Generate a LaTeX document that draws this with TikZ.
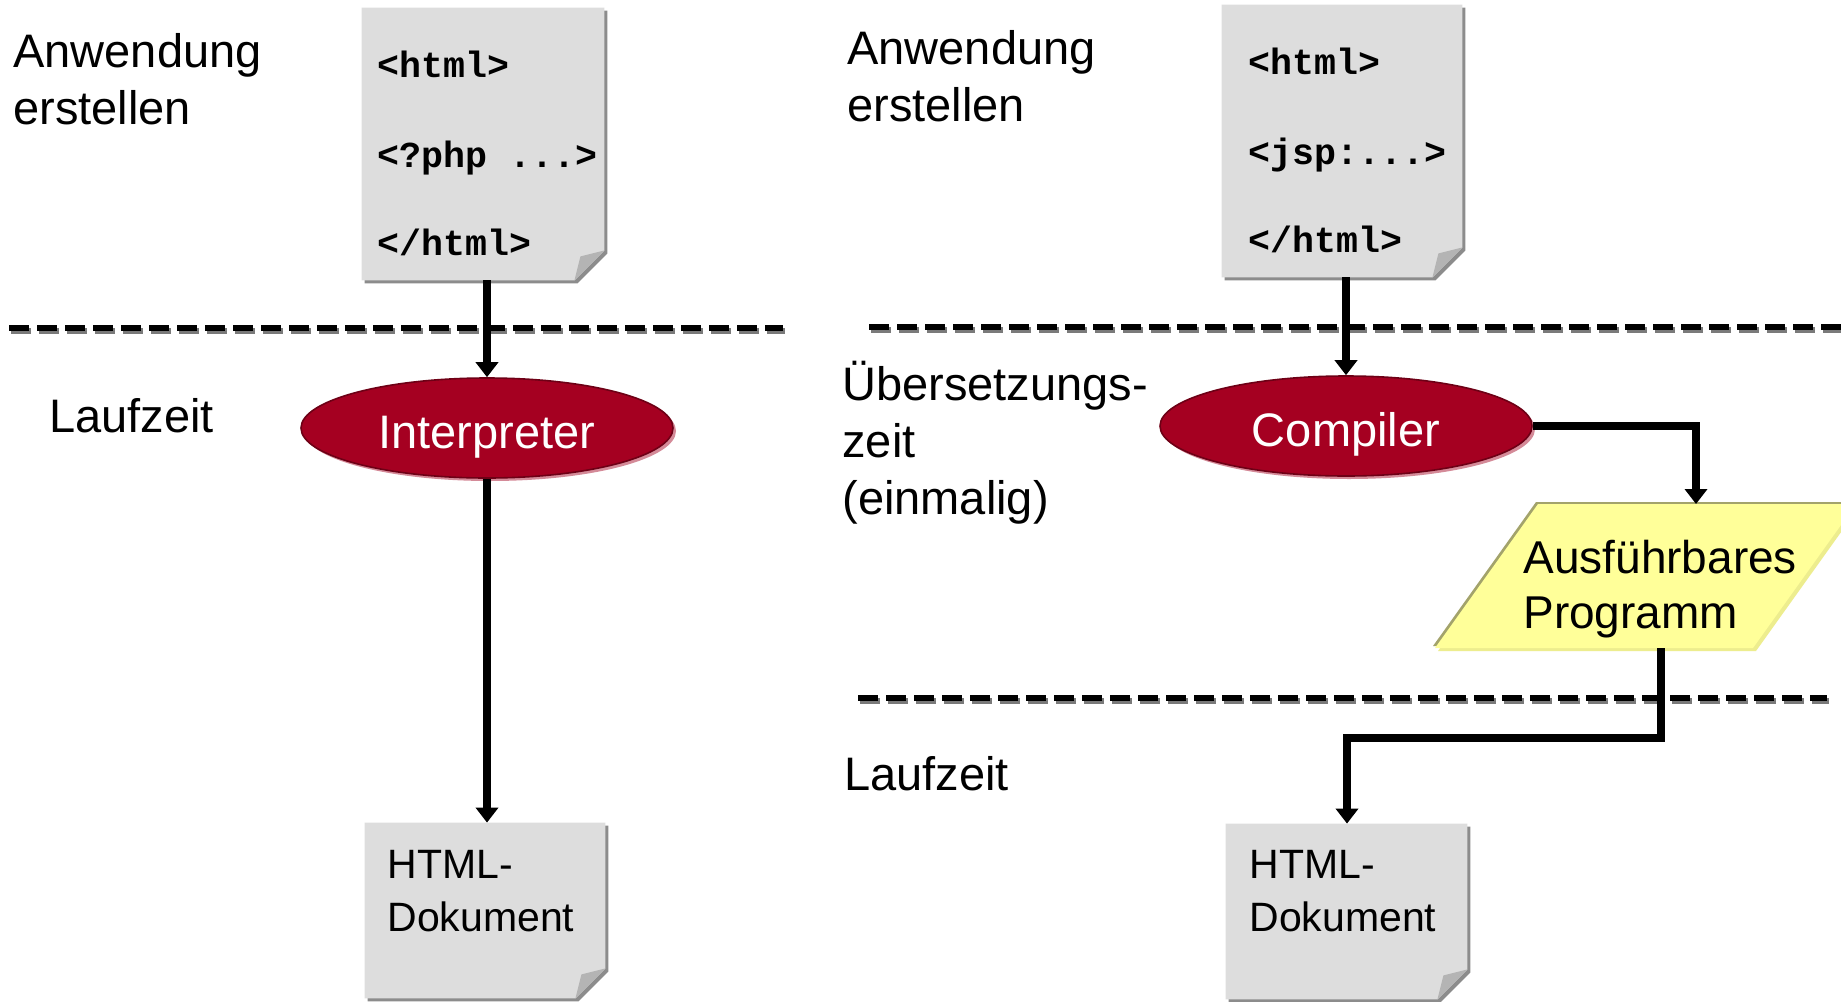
\documentclass[tikz,border=0pt]{standalone}
\usepackage{fontspec}
\setmainfont{Liberation Sans}
\newfontfamily\codefont{Liberation Mono}
\usetikzlibrary{arrows.meta,calc,shapes.geometric,shadows}

\definecolor{paper}{HTML}{DDDDDD}
\definecolor{papershade}{HTML}{8C8C8C}
\definecolor{paperfold}{HTML}{B4B4B4}
\definecolor{wine}{HTML}{A50021}
\definecolor{wineedge}{HTML}{6E0016}
\definecolor{wineshade}{HTML}{D48A98}
\definecolor{progfill}{HTML}{FFFF99}
\definecolor{progedge}{HTML}{A3A36B}
\definecolor{progshade}{HTML}{EDED8E}
\definecolor{dashshade}{HTML}{7A7A7A}

\tikzset{
  x=0.5pt, y=-0.5pt,
  % multi-line nodes: base anchor sits on the last line
  label text/.style={anchor=base west, inner sep=0pt, align=left,
    font=\fontsize{23.5}{28.5}\selectfont},
  code text/.style={anchor=base west, inner sep=0pt,
    font=\codefont\bfseries\fontsize{18.3}{22}\selectfont},
  doc text/.style={anchor=base west, inner sep=0pt, align=left,
    font=\fontsize{20.5}{26.5}\selectfont},
  prog text/.style={anchor=base west, inner sep=0pt, align=left,
    font=\fontsize{23}{27.5}\selectfont},
  docbox/.style={rectangle, inner sep=0pt},
  process/.style={ellipse, fill=wine, draw=wineedge, line width=0.8pt,
    minimum width=186pt, minimum height=50pt, inner sep=0pt, text=white,
    text height=20pt, text depth=0pt,
    font=\fontsize{23.5}{28}\selectfont,
    drop shadow={shadow xshift=1.5pt, shadow yshift=-1.5pt, fill=wineshade, opacity=1}},
  flow/.style={line width=3.75pt, -{Triangle[length=7.5pt,width=11pt]}},
  phase/.style={line width=3pt, dash pattern=on 10pt off 4pt},
  phase shade/.style={phase, draw=dashshade},
}

% a sheet of paper with a dog-eared lower right corner
\newcommand\paperdoc[1]{%
  \fill[papershade] ($(#1.north west)+(3,3)$) -- ($(#1.north east)+(3,3)$)
    -- ($(#1.south east)+(3,-27)$) -- ($(#1.south east)+(-27,3)$)
    -- ($(#1.south west)+(3,3)$) -- cycle;
  \fill[paper] (#1.north west) -- (#1.north east) -- ($(#1.south east)+(0,-30)$)
    -- ($(#1.south east)+(-30,0)$) -- (#1.south west) -- cycle;
  \fill[paperfold] ($(#1.south east)+(-30,0)$)
    .. controls ($(#1.south east)+(-27,-12)$) .. ($(#1.south east)+(-24,-24)$)
    .. controls ($(#1.south east)+(-12,-27)$) .. ($(#1.south east)+(0,-30)$) -- cycle;
}

\begin{document}
\begin{tikzpicture}
\useasboundingbox (0,0) rectangle (1841,1001);
\fill[white] (0,0) rectangle (1841,1001);
\clip (0,0) rectangle (1841,1001);

% phase separators
\draw[phase shade] (11,331) -- (785,331);
\draw[phase] (9,328) -- (783,328);
\draw[phase shade] (871,330) -- (1845,330);
\draw[phase] (869,327) -- (1843,327);
\draw[phase shade] (860,701) -- (1829,701);
\draw[phase] (858,698) -- (1827,698);

% labels of the phases
\node[label text] (make1) at (13,124) {Anwendung\\erstellen};
\node[label text] (run1) at (49,432) {Laufzeit};
\node[label text] (make2) at (847,121) {Anwendung\\erstellen};
\node[label text] (trans) at (842,514) {Übersetzungs-\\zeit\\(einmalig)};
\node[label text] (run2) at (844,790) {Laufzeit};

% source documents
\node[docbox, minimum width=121pt, minimum height=136pt] (src1) at (483,144) {};
\paperdoc{src1}
\node[code text] (src1a) at (377,77) {<html>};
\node[code text] (src1b) at (377,167) {<?php ...>};
\node[code text] (src1c) at (377,255) {</html>};

\node[docbox, minimum width=120pt, minimum height=136pt] (src2) at (1342,141) {};
\paperdoc{src2}
\node[code text] (src2a) at (1248,74) {<html>};
\node[code text] (src2b) at (1248,164) {<jsp:...>};
\node[code text] (src2c) at (1248,252) {</html>};

% generated documents
\node[docbox, minimum width=120pt, minimum height=87.5pt] (out1) at (485,910.5) {};
\paperdoc{out1}
\node[doc text] (out1t) at (387,931) {HTML-\\Dokument};

\node[docbox, minimum width=120.5pt, minimum height=87.5pt] (out2) at (1346.5,911.5) {};
\paperdoc{out2}
\node[doc text] (out2t) at (1249,931) {HTML-\\Dokument};

% processors
\node[process] (interp) at (487,428) {Interpreter};
\node[process] (comp) at (1346,426) {Compiler};

% executable program
\fill[progedge] (1536,502) -- (1854,502) -- (1751,646) -- (1433,646) -- cycle;
\fill[progshade] (1541,507) -- (1859,507) -- (1756,651) -- (1438,651) -- cycle;
\fill[progfill] (1538,504) -- (1856,504) -- (1753,648) -- (1435,648) -- cycle;
\node[prog text] (prog) at (1523,628) {Ausführbares\\Programm};
\coordinate (progin) at (1696,504);
\coordinate (progout) at (1661,648);
\coordinate (lvl) at (1347,738);

% flow
\draw[flow] (interp.north |- src1.south) -- (interp.north);
\draw[flow] (interp.south) -- (interp.south |- out1.north);
\draw[flow] (comp.north |- src2.south) -- (comp.north);
\draw[flow] (comp.east) -| (progin);
\draw[flow] (progout) |- (lvl) -- (lvl |- out2.north);
\end{tikzpicture}
\end{document}
